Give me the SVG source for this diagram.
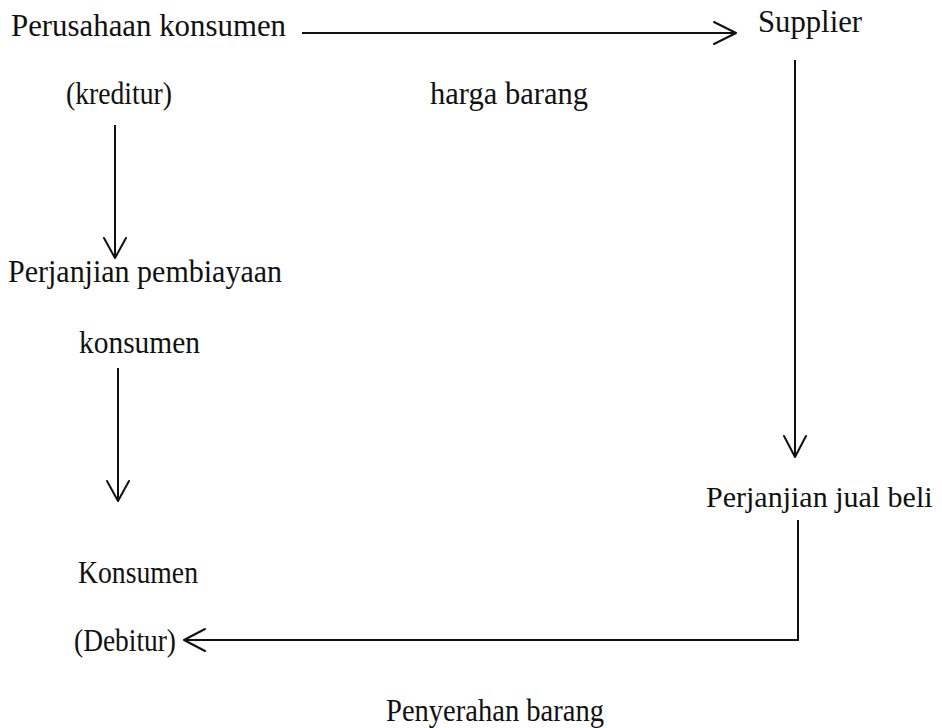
<svg xmlns="http://www.w3.org/2000/svg" width="942" height="728" viewBox="0 0 942 728">
<style>
text{font-family:"Liberation Serif","Times New Roman",serif;font-size:32px;fill:#111}
.sm{font-size:30px}
.ln{stroke:#111;stroke-width:2;fill:none}
.ah{stroke:#111;stroke-width:2;fill:none;stroke-linecap:round;stroke-linejoin:round}
</style>
<rect width="942" height="728" fill="#fff"/>
<g id="n-perusahaan"><text x="11" y="36" textLength="275" lengthAdjust="spacingAndGlyphs">Perusahaan konsumen</text><text x="66" y="104" textLength="106" lengthAdjust="spacingAndGlyphs">(kreditur)</text></g>
<g id="n-supplier"><text x="758" y="32" textLength="104" lengthAdjust="spacingAndGlyphs">Supplier</text></g>
<g id="n-pembiayaan"><text x="8" y="282" textLength="274" lengthAdjust="spacingAndGlyphs">Perjanjian pembiayaan</text><text x="79" y="353" textLength="121" lengthAdjust="spacingAndGlyphs">konsumen</text></g>
<g id="n-jualbeli"><text class="sm" x="706" y="507">Perjanjian jual beli</text></g>
<g id="n-konsumen"><text x="78" y="583" textLength="120" lengthAdjust="spacingAndGlyphs">Konsumen</text><text x="74" y="651" textLength="102" lengthAdjust="spacingAndGlyphs">(Debitur)</text></g>
<g id="l-harga"><text x="430" y="104" textLength="158" lengthAdjust="spacingAndGlyphs">harga barang</text></g>
<g id="l-penyerahan"><text x="386" y="721" textLength="218" lengthAdjust="spacingAndGlyphs">Penyerahan barang</text></g>
<g id="connectors">
<path class="ln" d="M302 33H735"/><path class="ah" d="M714 22L736 33L714 44"/>
<path class="ln" d="M795 60V456"/><path class="ah" d="M784 436L795 457L806 436"/>
<path class="ln" d="M115 125V257"/><path class="ah" d="M104 238L115 258L126 238"/>
<path class="ln" d="M118 368V500"/><path class="ah" d="M107 481L118 501L129 481"/>
<path class="ln" d="M798 520V640H185"/><path class="ah" d="M205 629L184 640L205 651"/>
</g>
</svg>
